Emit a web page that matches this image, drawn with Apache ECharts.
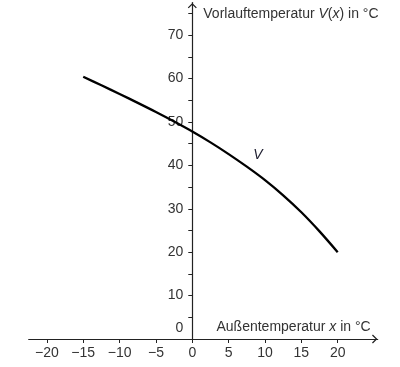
<!DOCTYPE html>
<html><head><meta charset="utf-8">
<script src="https://cdn.jsdelivr.net/npm/echarts@6/dist/echarts.min.js"></script>
<style>html,body{margin:0;padding:0;background:#fff}#c{width:400px;height:367px}</style>
</head><body><div id="c"></div>
<script>
const xValues = [-15, -12.5, -10, -7.5, -5, -2.5, 0, 2.5, 5, 7.5, 10, 12.5, 15, 17.5, 20];
const vValues = [60.4, 58.45, 56.45, 54.4, 52.3, 50.1, 47.8, 45.3, 42.6, 39.7, 36.6, 33.1, 29.2, 24.8, 20];
const xTickValues = [-20, -15, -10, -5, 0, 5, 10, 15, 20];
const yTickValues = [5, 10, 15, 20, 25, 30, 35, 40, 45, 50, 55, 60, 65, 70, 75];
const yLabelValues = [0, 10, 20, 30, 40, 50, 60, 70];
const curveName = 'V';
const labelPointIndex = 10;

const chart = echarts.init(document.getElementById('c'));
const font = 'Liberation Sans, Arial, sans-serif';
const axisColor = '#222';
const textColor = '#333';
const chevron = 'path://M0,10 L10,0 L20,10 L18,12 L10,4 L2,12 Z';
const xMin = -22.5, xMax = 25.5;
const gridLeft = 28.7, gridRight = 22.3;
const yAxisShift = -(400 - gridLeft - gridRight) * (0 - xMin) / (xMax - xMin);

chart.setOption({
  animation: false,
  grid: { left: gridLeft, right: gridRight, top: 2.6, bottom: 28, containLabel: false },
  xAxis: {
    type: 'value', min: xMin, max: xMax,
    splitLine: { show: false },
    axisLine: { onZero: true, lineStyle: { color: axisColor, width: 1.2 },
      symbol: ['none', chevron], symbolSize: [9, 6], symbolOffset: [0, -3] },
    axisTick: { show: true, inside: false, length: 4, lineStyle: { color: axisColor }, customValues: xTickValues },
    axisLabel: { customValues: xTickValues, margin: 7, color: textColor, fontSize: 14, fontFamily: font,
      formatter: v => (v < 0 ? '\u2212' + Math.abs(v) : String(v)) },
    name: '{n|Außentemperatur }{i|x}{n| in °C}',
    nameLocation: 'end', nameGap: -7,
    nameTextStyle: { align: 'right', verticalAlign: 'bottom', padding: [0, 0, 5, 0],
      rich: { n: { fontSize: 14, fontFamily: font, color: textColor },
              i: { fontSize: 14, fontFamily: font, color: textColor, fontStyle: 'italic' } } }
  },
  yAxis: {
    type: 'value', min: 0, max: 77.5, position: 'left', offset: yAxisShift,
    splitLine: { show: false },
    axisLine: { onZero: false, lineStyle: { color: axisColor, width: 1.2 },
      symbol: ['none', chevron], symbolSize: [9, 6], symbolOffset: [0, -3] },
    axisTick: { show: true, length: 4, lineStyle: { color: axisColor }, customValues: yTickValues },
    axisLabel: { customValues: yLabelValues, margin: 9, color: textColor, fontSize: 14, fontFamily: font,
      formatter: v => (v === 0 ? '{z|0}' : String(v)),
      rich: { z: { fontSize: 14, fontFamily: font, color: textColor, padding: [0, 0, 22, 0] } } },
    name: '{n|Vorlauftemperatur }{i|V}{n|(}{i|x}{n|) in °C}',
    nameLocation: 'end', nameGap: -12,
    nameTextStyle: { align: 'left', verticalAlign: 'middle', padding: [0, 0, 0, 11],
      rich: { n: { fontSize: 14, fontFamily: font, color: textColor },
              i: { fontSize: 14, fontFamily: font, color: textColor, fontStyle: 'italic' } } }
  },
  series: [{
    type: 'line', name: curveName,
    data: xValues.map((x, i) => [x, vValues[i]]),
    smooth: 0.3, showSymbol: false, symbol: 'none',
    lineStyle: { color: '#000', width: 2.3 },
    markPoint: {
      symbol: 'circle', symbolSize: 0, silent: true,
      label: { show: true, formatter: curveName, color: '#223', fontSize: 14, fontStyle: 'italic',
        fontFamily: font, offset: [-7, -25] },
      data: [{ coord: [xValues[labelPointIndex], vValues[labelPointIndex]] }]
    }
  }]
});
</script></body></html>
